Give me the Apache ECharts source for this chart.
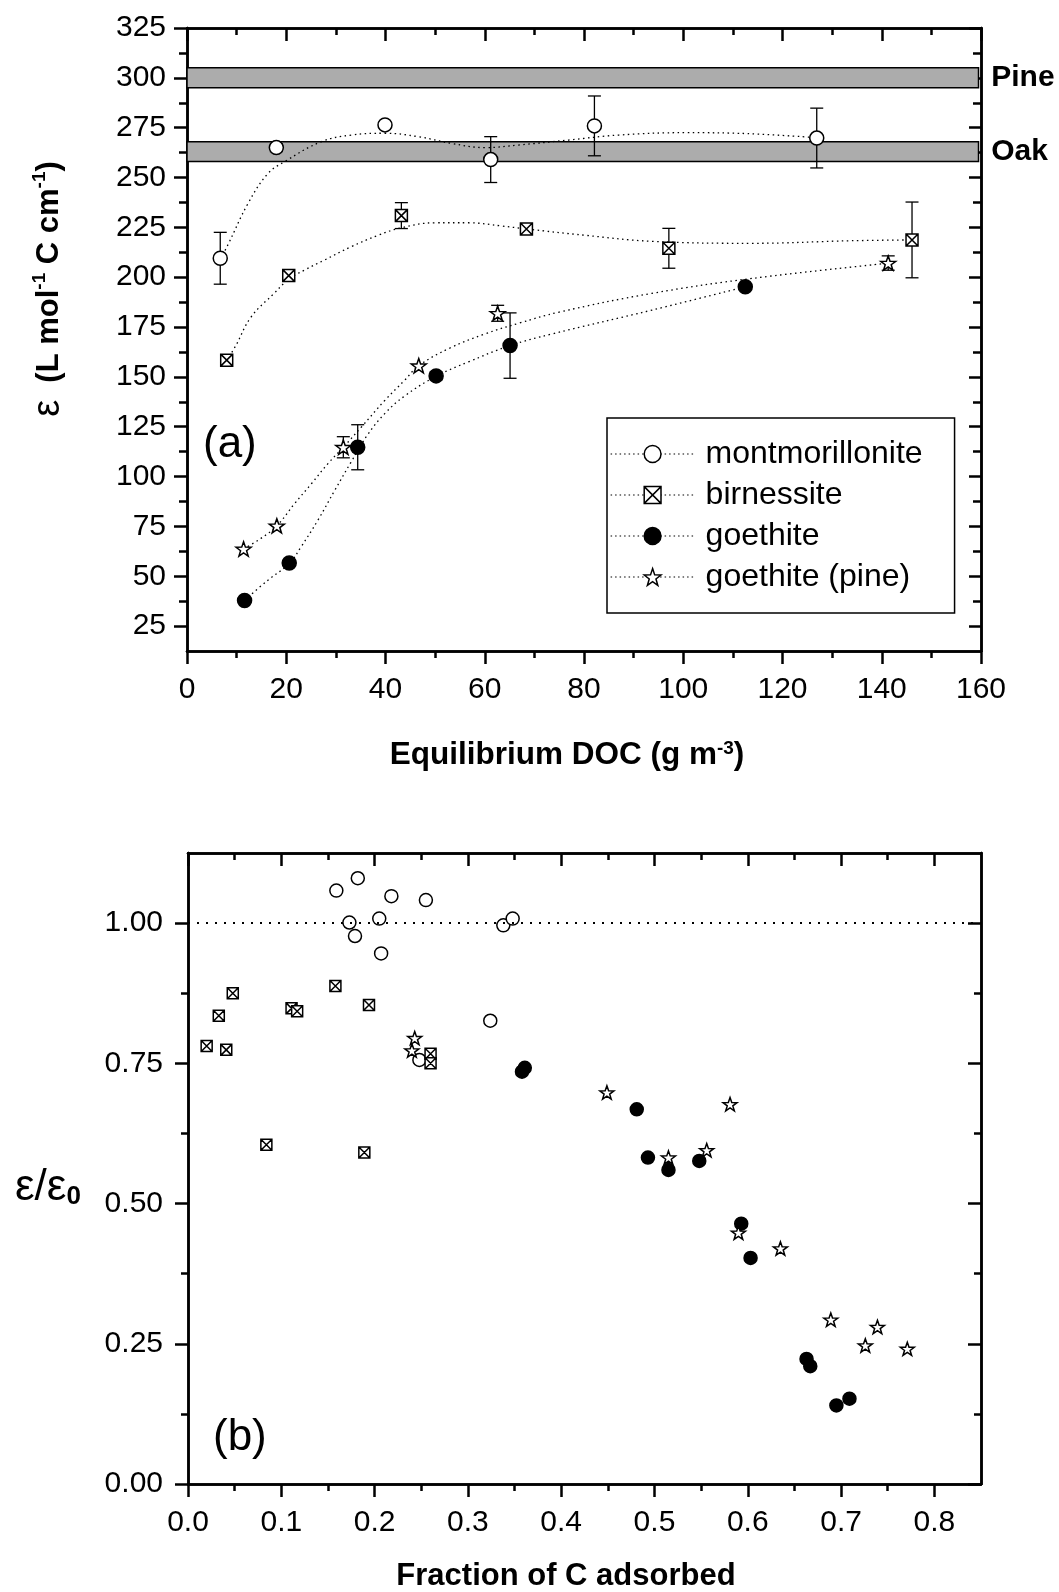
<!DOCTYPE html>
<html>
<head>
<meta charset="utf-8">
<script src="https://cdn.jsdelivr.net/npm/echarts@6/dist/echarts.min.js"></script>
<style>
html,body{margin:0;padding:0;background:#fff;}
#chart{width:1059px;height:1592px;}
</style>
</head>
<body>
<div id="chart"></div>
<script>
// ---- panel (a): epsilon vs equilibrium DOC ----
const montA = [[6.7,209.5],[18.0,265.0],[39.9,276.4],[61.2,259.0],[82.1,275.9],[126.9,269.8]];
const montErrA = [13, 2, 0, 11.5, 15, 15];
const birnA = [[8.0,158.4],[20.5,200.8],[43.2,230.9],[68.4,224.2],[97.1,214.5],[146.1,218.7]];
const birnErrA = [0, 0, 6.5, 2, 10, 19];
const goeA = [[11.6,37.8],[20.6,56.6],[34.4,114.7],[50.2,150.5],[65.1,165.7],[112.5,195.2]];
const goeErrA = [0, 0, 11.3, 2, 16.4, 0];
const pineA = [[11.4,63.7],[18.1,75.3],[31.5,114.7],[46.7,155.6],[62.6,181.9],[141.3,207.1]];
const pineErrA = [0, 0, 5.3, 0, 4, 3.6];

// dotted fit curves
const montFit = [[6.7,209],[8.2,216],[12.3,237],[16.3,252],[19.7,258],[27.1,268],[33.1,271.3],[39.9,272.2],[46.6,270.5],[53.3,267.1],[60.1,265],[66.8,266.3],[76.9,268.8],[87,271.3],[100.5,272.5],[113,272],[126.9,270]];
const birnFit = [[8.0,158],[9.9,166],[12.9,180],[17.6,192],[20.5,199],[23.7,203.6],[27.7,208.6],[33.1,215.3],[38.5,221],[43.2,224.8],[50,227.3],[56.7,227.3],[63.4,225.7],[68.4,224.2],[80.3,221],[93.7,218],[113.9,217],[134,218.3],[146.1,218.7]];
const goeFit = [[11.6,38],[16.3,48],[20.6,56.4],[23,64.8],[26.4,78.2],[29.8,93.2],[33,107],[36.4,121],[39.9,131.7],[43.9,140.5],[50.2,150.3],[56.7,157.5],[65.1,165.7],[73.5,171.5],[93.7,183.5],[112.5,195.2]];
const pineFit = [[11.4,63.7],[14.9,69],[18.1,75.3],[21.7,86.5],[25.1,96.5],[28.4,106.5],[31.5,114.7],[35.2,125],[39.9,138.3],[43.9,148.4],[46.7,155.6],[53,164.5],[60,171.5],[67,177],[75,182.5],[93.7,191.9],[113.9,199.4],[141.3,207]];

const pineBand = [295, 305];
const oakBand = [258, 268];

// ---- panel (b): eps/eps0 vs fraction of C adsorbed ----
const montB = [[0.159,1.058],[0.182,1.080],[0.218,1.048],[0.255,1.041],[0.173,1.001],[0.205,1.008],[0.179,0.977],[0.207,0.946],[0.338,0.996],[0.348,1.008],[0.324,0.826],[0.248,0.756]];
const birnB = [[0.020,0.781],[0.033,0.835],[0.048,0.875],[0.041,0.774],[0.111,0.848],[0.117,0.843],[0.158,0.888],[0.194,0.854],[0.084,0.605],[0.189,0.591],[0.260,0.767],[0.260,0.750]];
const goeB = [[0.358,0.735],[0.361,0.742],[0.481,0.668],[0.493,0.582],[0.515,0.560],[0.548,0.576],[0.593,0.464],[0.603,0.403],[0.663,0.223],[0.667,0.210],[0.695,0.140],[0.709,0.152]];
const pineB = [[0.243,0.795],[0.240,0.773],[0.449,0.698],[0.581,0.677],[0.556,0.595],[0.515,0.582],[0.590,0.448],[0.635,0.420],[0.689,0.293],[0.739,0.280],[0.726,0.247],[0.771,0.241]];
const refLineB = 1.0;

// ---- ticks ----
const xTicksA = [0,20,40,60,80,100,120,140,160];
const xMinorA = [10,30,50,70,90,110,130,150];
const yTicksA = [25,50,75,100,125,150,175,200,225,250,275,300,325];
const yMinorA = [37.5,62.5,87.5,112.5,137.5,162.5,187.5,212.5,237.5,262.5,287.5,312.5];
const xTicksB = [0,0.1,0.2,0.3,0.4,0.5,0.6,0.7,0.8];
const xMinorB = [0.05,0.15,0.25,0.35,0.45,0.55,0.65,0.75];
const yTicksB = [0,0.25,0.5,0.75,1.0];
const yMinorB = [0.125,0.375,0.625,0.875];

const FONT = '"Liberation Sans", Arial, sans-serif';
const STAR = 'path://M10,0L12.35,6.76L19.51,6.91L13.8,11.24L15.88,18.09L10,14L4.12,18.09L6.2,11.24L0.49,6.91L7.65,6.76Z';
const BOXX = 'path://M0,0L10,0L10,10L0,10Z M0,0L10,10 M10,0L0,10';

const mats = [
  {name:'montmorillonite', sym:'circle', fill:'#fff', sA:14, sB:13, a:montA, err:montErrA, fit:montFit, b:montB},
  {name:'birnessite', sym:BOXX, fill:'#fff', sA:12, sB:11, a:birnA, err:birnErrA, fit:birnFit, b:birnB},
  {name:'goethite', sym:'circle', fill:'#000', sA:14, sB:13, a:goeA, err:goeErrA, fit:goeFit, b:goeB},
  {name:'goethite (pine)', sym:STAR, fill:'#fff', sA:15, sB:14, a:pineA, err:pineErrA, fit:pineFit, b:pineB}
];

function mkAxis(gi, pos, range, ticks, len, inside, label){
  return {
    type:'value', gridIndex:gi, position:pos, min:range[0], max:range[1],
    axisLine:{show:true, onZero:false, lineStyle:{color:'#000', width:2.5}},
    axisTick:{show:true, inside:inside, length:len, customValues:ticks, lineStyle:{color:'#000', width:2.5}},
    axisLabel: label ? Object.assign({show:true, customValues:ticks, color:'#000', fontSize:30, fontFamily:FONT}, label) : {show:false},
    splitLine:{show:false}
  };
}

const rA = {x:[0,160], y:[12.5,325]};
const rB = {x:[0,0.85], y:[0,1.125]};

const xAxes = [
  mkAxis(0,'bottom',rA.x,xTicksA,13,false,{margin:24}),
  mkAxis(0,'bottom',rA.x,xMinorA,7,false,null),
  mkAxis(0,'top',rA.x,xTicksA,13,true,null),
  mkAxis(0,'top',rA.x,xMinorA,7,true,null),
  mkAxis(1,'bottom',rB.x,xTicksB,13,false,{margin:24, formatter:(v)=>v.toFixed(1)}),
  mkAxis(1,'bottom',rB.x,xMinorB,7,false,null),
  mkAxis(1,'top',rB.x,xTicksB,13,true,null),
  mkAxis(1,'top',rB.x,xMinorB,7,true,null)
];
const yAxes = [
  mkAxis(0,'left',rA.y,yTicksA,13,false,{margin:21}),
  mkAxis(0,'left',rA.y,yMinorA,8,false,null),
  mkAxis(0,'right',rA.y,yTicksA,12,true,null),
  mkAxis(0,'right',rA.y,yMinorA,8,true,null),
  mkAxis(1,'left',rB.y,yTicksB,13,false,{margin:25, formatter:(v)=>v.toFixed(2)}),
  mkAxis(1,'left',rB.y,yMinorB,7,false,null),
  mkAxis(1,'right',rB.y,yTicksB,13,true,null),
  mkAxis(1,'right',rB.y,yMinorB,7,true,null)
];

function errRender(params, api){
  const x = api.value(0), y = api.value(1), e = api.value(2);
  if(!e) return null;
  const top = api.coord([x, y + e]);
  const bot = api.coord([x, y - e]);
  const hw = 6.5;
  const st = {stroke:'#000', lineWidth:1.3};
  return {type:'group', children:[
    {type:'line', shape:{x1:top[0], y1:top[1], x2:bot[0], y2:bot[1]}, style:st},
    {type:'line', shape:{x1:top[0]-hw, y1:top[1], x2:top[0]+hw, y2:top[1]}, style:st},
    {type:'line', shape:{x1:bot[0]-hw, y1:bot[1], x2:bot[0]+hw, y2:bot[1]}, style:st}
  ]};
}

const dotted = {color:'#000', width:1.3, type:[1.5,3.5]};
const series = [];

mats.forEach((m)=>{
  series.push({
    name:m.name, type:'line', xAxisIndex:0, yAxisIndex:0, data:m.fit,
    smooth:0.4, showSymbol:false, symbol:m.sym, symbolSize:m.sA,
    itemStyle:{color:m.fill, borderColor:'#000', borderWidth:1.5},
    lineStyle:dotted, silent:true, z:2
  });
});

series.push({
  name:'bands', type:'line', xAxisIndex:0, yAxisIndex:0, data:[], z:1,
  markArea:{
    silent:true,
    itemStyle:{color:'#acacac', borderColor:'#000', borderWidth:1.5},
    label:{show:true, position:'right', distance:12, fontSize:30, fontWeight:'bold', color:'#000', fontFamily:FONT},
    data:[
      [{name:'Pine', xAxis:0, yAxis:pineBand[0]}, {xAxis:159.5, yAxis:pineBand[1]}],
      [{name:'Oak', xAxis:0, yAxis:oakBand[0]}, {xAxis:159.5, yAxis:oakBand[1]}]
    ]
  }
});

mats.forEach((m)=>{
  series.push({
    name:'err-' + m.name, type:'custom', xAxisIndex:0, yAxisIndex:0, z:3, silent:true,
    data:m.a.map((p, i)=>[p[0], p[1], m.err[i]]),
    renderItem:errRender
  });
});

mats.forEach((m)=>{
  series.push({
    name:m.name, type:'scatter', xAxisIndex:0, yAxisIndex:0, data:m.a,
    symbol:m.sym, symbolSize:m.sA, symbolKeepAspect:true,
    itemStyle:{color:m.fill, borderColor:'#000', borderWidth:1.5, opacity:1}, z:4
  });
});

series.push({
  name:'ref', type:'line', xAxisIndex:4, yAxisIndex:4, data:[], z:1,
  markLine:{
    silent:true, symbol:['none','none'], label:{show:false},
    lineStyle:{color:'#000', width:2, type:[2,7]},
    data:[{yAxis:refLineB}]
  }
});

mats.forEach((m)=>{
  series.push({
    name:m.name, type:'scatter', xAxisIndex:4, yAxisIndex:4, data:m.b,
    symbol:m.sym, symbolSize:m.sB, symbolKeepAspect:true,
    itemStyle:{color:m.fill, borderColor:'#000', borderWidth:1.5, opacity:1}, z:4
  });
});

const option = {
  animation:false,
  backgroundColor:'#fff',
  textStyle:{fontFamily:FONT, color:'#000'},
  grid:[
    {left:187, top:28, width:794, height:623, outerBoundsMode:'none'},
    {left:188, top:853, width:793, height:631, outerBoundsMode:'none'}
  ],
  xAxis:xAxes,
  yAxis:yAxes,
  legend:{
    orient:'vertical', left:607, top:418,
    padding:[20, 32, 20, 3], itemWidth:84, itemHeight:21, itemGap:9,
    borderColor:'#000', borderWidth:1.5, backgroundColor:'#fff',
    selectedMode:false,
    textStyle:{fontSize:32, color:'#000', fontFamily:FONT, padding:[0,0,0,6]},
    data:mats.map((m)=>({
      name:m.name,
      itemStyle:{color:m.fill, borderColor:'#000', borderWidth:1.5},
      lineStyle:{color:'#000', width:1.2, type:[1.5,3]}
    }))
  },
  graphic:[
    {type:'text', x:203, y:445, style:{text:'(a)', fontSize:44, fontFamily:FONT, fill:'#000', textAlign:'left', textVerticalAlign:'middle', align:'left', verticalAlign:'middle'}},
    {type:'text', x:213, y:1438, style:{text:'(b)', fontSize:44, fontFamily:FONT, fill:'#000', textAlign:'left', textVerticalAlign:'middle', align:'left', verticalAlign:'middle'}},
    {type:'text', x:49, y:289, rotation:Math.PI/2, style:{
      text:'{e|ε}  {t|(L mol}{s|-1}{t| C cm}{s|-1}{t|)}',
      fontSize:31, fontFamily:FONT, fontWeight:'bold', fill:'#000',
      textAlign:'center', textVerticalAlign:'middle', align:'center', verticalAlign:'middle',
      rich:{
        e:{fontSize:38, fontWeight:'normal', fontFamily:FONT},
        t:{fontSize:31, fontWeight:'bold', fontFamily:FONT},
        s:{fontSize:19, fontWeight:'bold', fontFamily:FONT, verticalAlign:'top'}
      }
    }},
    {type:'text', x:567, y:755, style:{
      text:'{t|Equilibrium DOC (g m}{s|-3}{t|)}',
      fontSize:31.5, fontFamily:FONT, fontWeight:'bold', fill:'#000',
      textAlign:'center', textVerticalAlign:'middle', align:'center', verticalAlign:'middle',
      rich:{
        t:{fontSize:31.5, fontWeight:'bold', fontFamily:FONT},
        s:{fontSize:19, fontWeight:'bold', fontFamily:FONT, verticalAlign:'top'}
      }
    }},
    {type:'text', x:566, y:1576, style:{
      text:'Fraction of C adsorbed', fontSize:31, fontWeight:'bold', fontFamily:FONT, fill:'#000',
      textAlign:'center', textVerticalAlign:'middle', align:'center', verticalAlign:'middle'
    }},
    {type:'text', x:15, y:1188, style:{
      text:'{e|ε/ε}{s|0}', fontSize:44, fontFamily:FONT, fill:'#000',
      textAlign:'left', textVerticalAlign:'middle', align:'left', verticalAlign:'middle',
      rich:{
        e:{fontSize:44, fontFamily:FONT},
        s:{fontSize:26, fontWeight:'bold', fontFamily:FONT, verticalAlign:'bottom'}
      }
    }}
  ],
  series:series
};

const chart = echarts.init(document.getElementById('chart'));
chart.setOption(option);
</script>
</body>
</html>
